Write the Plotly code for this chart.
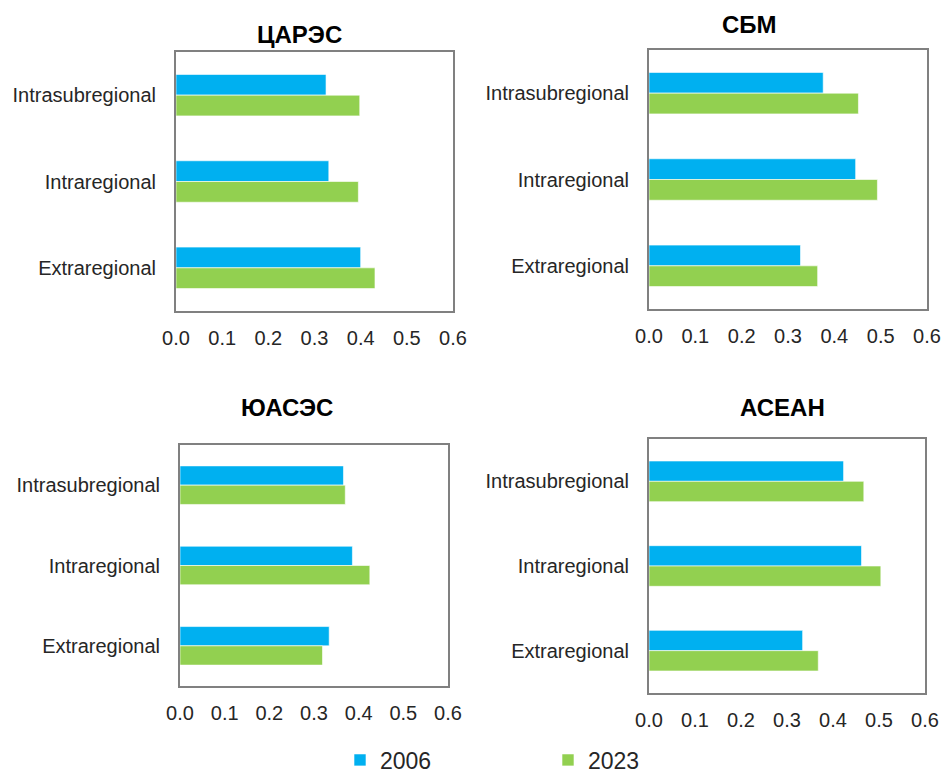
import plotly.graph_objects as go

categories = ["Intrasubregional", "Intraregional", "Extraregional"]
panels = ["ЦАРЭС", "СБМ", "ЮАСЭС", "АСЕАН"]
years = ["2006", "2023"]

carec_2006 = [0.325, 0.331, 0.400]
carec_2023 = [0.398, 0.395, 0.431]
sbm_2006 = [0.376, 0.446, 0.327]
sbm_2023 = [0.452, 0.493, 0.364]
sasec_2006 = [0.366, 0.386, 0.334]
sasec_2023 = [0.370, 0.425, 0.319]
asean_2006 = [0.423, 0.462, 0.334]
asean_2023 = [0.467, 0.504, 0.368]

values = [
    (carec_2006, carec_2023),
    (sbm_2006, sbm_2023),
    (sasec_2006, sasec_2023),
    (asean_2006, asean_2023),
]

W, H = 945, 773
colors = {"2006": "#00B0F0", "2023": "#92D050"}
FONT = "Liberation Sans"
TXT = "#262626"


def px_x(v):
    return v / W


def px_y(v):
    return 1 - v / H


# plot frames in window pixels: (left, right, top, bottom)
frames = [
    (176, 453, 52, 311),
    (649, 927, 50, 309),
    (180, 448, 445, 686),
    (649, 925, 439, 693),
]
# title centres in window pixels
title_pos = [(299, 34), (749, 25), (287, 407), (782, 407)]

fig = go.Figure()
layout = {}
for i, (name, (v06, v23)) in enumerate(zip(panels, values)):
    n = i + 1
    xa = "x" if n == 1 else f"x{n}"
    ya = "y" if n == 1 else f"y{n}"
    for yr, vals in zip(years, (v06, v23)):
        fig.add_trace(go.Bar(
            x=vals, y=categories, orientation="h", name=yr,
            marker=dict(color=colors[yr], line=dict(color="white", width=0.6)),
            xaxis=xa, yaxis=ya,
            showlegend=(i == 0),
            legend="legend" if yr == "2006" else "legend2",
        ))
    l, r, t, b = frames[i]
    axkey_x = "xaxis" if n == 1 else f"xaxis{n}"
    axkey_y = "yaxis" if n == 1 else f"yaxis{n}"
    layout[axkey_x] = dict(
        domain=[px_x(l), px_x(r)], anchor=ya, range=[0, 0.6], dtick=0.1,
        tickformat=".1f", showgrid=False, zeroline=False, automargin=False,
        showline=True, mirror=True, linecolor="#808080", linewidth=2,
        ticks="", ticklabelstandoff=8,
        tickfont=dict(family=FONT, size=20, color=TXT),
        fixedrange=True,
    )
    layout[axkey_y] = dict(
        domain=[px_y(b), px_y(t)], anchor=xa, autorange="reversed",
        showgrid=False, zeroline=False, automargin=False,
        showline=True, mirror=True, linecolor="#808080", linewidth=2,
        ticks="", ticklabelstandoff=14,
        tickfont=dict(family=FONT, size=20, color=TXT),
        fixedrange=True,
    )
    fig.add_annotation(
        text=f"<b>{name}</b>", x=px_x(title_pos[i][0]), y=px_y(title_pos[i][1]),
        xref="paper", yref="paper", xanchor="center", yanchor="middle",
        showarrow=False,
        font=dict(family=FONT, size=24, color="black"),
    )

legend_common = dict(orientation="h", yref="container", y=px_y(760), yanchor="middle",
                     xanchor="left", font=dict(family=FONT, size=23, color=TXT),
                     bgcolor="rgba(0,0,0,0)")
fig.update_layout(
    **layout,
    width=W, height=H,
    margin=dict(l=0, r=0, t=0, b=0, autoexpand=False),
    paper_bgcolor="white", plot_bgcolor="white",
    barmode="group", bargap=0.52, bargroupgap=0,
    legend=dict(x=px_x(340), **legend_common),
    legend2=dict(x=px_x(548), **legend_common),
)

fig.write_html(
    "out.html",
    config={"displayModeBar": False},
    post_script="document.body.style.margin='0';document.body.style.overflow='hidden';",
)
